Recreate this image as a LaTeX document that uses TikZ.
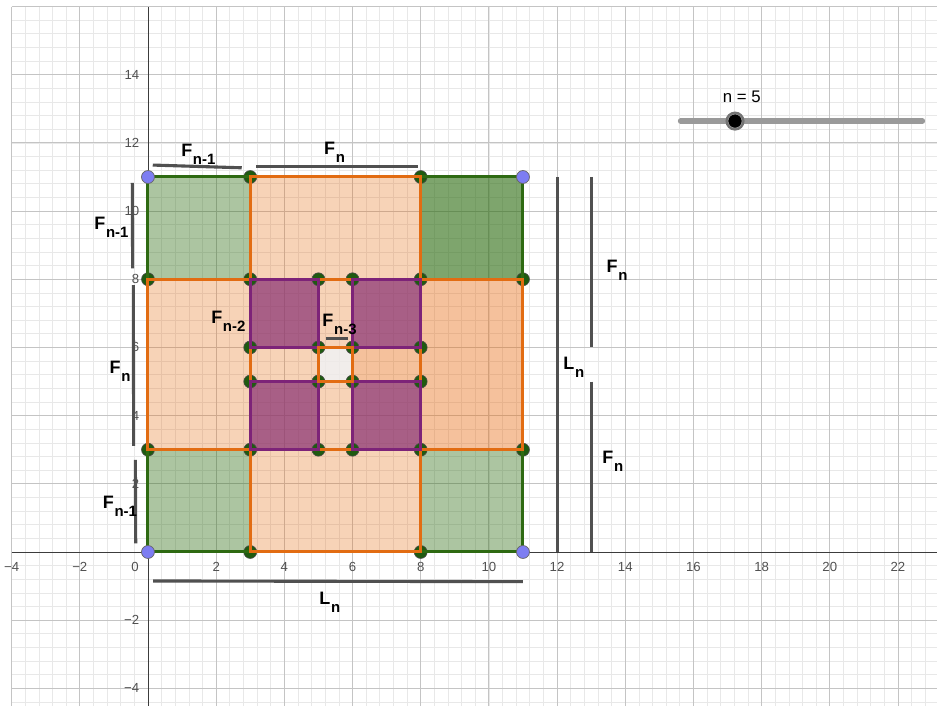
\documentclass[tikz,border=0pt]{standalone}
\usepackage{fontspec}
\setmainfont{Liberation Sans}
\usepackage{xcolor}
\usepackage{tikz}

\definecolor{gridmajor}{HTML}{C4C4C4}
\definecolor{gridminor}{HTML}{E8E8E8}
\definecolor{axisgray}{HTML}{3C3C3C}
\definecolor{ticktext}{HTML}{505050}
\definecolor{greenbase}{HTML}{2F6E14}
\definecolor{greenline}{HTML}{2E6A12}
\definecolor{orangebase}{HTML}{E66C12}
\definecolor{orangeline}{HTML}{E26C12}
\definecolor{purplebase}{HTML}{8A3372}
\definecolor{purpleline}{HTML}{7D2378}
\definecolor{centerfill}{HTML}{EEEAE7}
\definecolor{dimgray}{HTML}{505050}
\definecolor{dotgreen}{HTML}{1F5A10}
\definecolor{dotblue}{HTML}{7D7DF2}
\definecolor{slidergray}{HTML}{9A9A9A}

% label F_{n-k} as GeoGebra prints it
\newcommand{\fib}[2]{{\fontsize{15}{15}\selectfont\bfseries #1\kern0.6pt\raisebox{-6.5pt}{\fontsize{12.5}{12.5}\selectfont #2}}}

\begin{document}
\begin{tikzpicture}[x=1cm,y=1cm,
    tick/.style={text=ticktext, font=\fontsize{11}{11}\selectfont, inner sep=0pt},
    dimlabel/.style={anchor=base west, inner sep=0pt},
    dimseg/.style={dimgray, line width=2.6pt},
    gfill/.style={fill=greenbase, fill opacity=0.4},
    ofill/.style={fill=orangebase, fill opacity=0.3},
    pfill/.style={fill=purplebase, fill opacity=0.72},
    gdot/.style={circle, fill=dotgreen, draw=black!70, line width=0.5pt, inner sep=0pt, minimum size=3.8mm},
    bdot/.style={circle, fill=dotblue, draw=black!60, line width=0.6pt, inner sep=0pt, minimum size=3.8mm}]
    \useasboundingbox (-4.341,-4.517) rectangle (23.145,16.192);

    % grid and axes
    \draw[gridminor, line width=0.6pt, step=0.4] (-4,-4.517) grid (23.145,16);
    \draw[gridmajor, line width=0.7pt, step=2] (-4,-4.517) grid (23.145,16);
    \draw[axisgray, line width=0.8pt] (-4,0) -- (23.145,0);
    \draw[axisgray, line width=0.8pt] (0,-4.517) -- (0,16);

    \foreach \x/\t [count=\i] in {-4/−4,-2/−2,2/2,4/4,6/6,8/8,10/10,12/12,14/14,16/16,18/18,20/20,22/22}
      \node[tick] (xt\i) at (\x,-0.43) {\t};
    \foreach \y/\t [count=\i] in {-4/−4,-2/−2,2/2,4/4,6/6,8/8,10/10,12/12,14/14}
      \node[tick, anchor=east] (yt\i) at (-0.25,\y) {\t};
    \node[tick] (origin) at (-0.38,-0.43) {0};

    % fills
    \fill[gfill] (0,8) rectangle (3,11) (0,0) rectangle (3,3) (8,0) rectangle (11,3);
    \fill[greenbase, fill opacity=0.62] (8,8) rectangle (11,11);
    \fill[ofill, even odd rule] (3,0) rectangle (8,11) (5,5) rectangle (6,6);
    \fill[ofill] (0,3) rectangle (3,8);
    \fill[orangebase, fill opacity=0.42] (8,3) rectangle (11,8);
    \fill[orangebase, fill opacity=0.17] (6,5) rectangle (8,6);
    \fill[centerfill, fill opacity=0.85] (5,5) rectangle (6,6);
    \fill[pfill] (3,6) rectangle (5,8) (6,6) rectangle (8,8) (3,3) rectangle (5,5) (6,3) rectangle (8,5);

    \foreach \p [count=\i] in {(3,11),(8,11),(0,8),(3,8),(5,8),(6,8),(8,8),(11,8),(3,6),(5,6),(6,6),(8,6),
        (3,5),(5,5),(6,5),(8,5),(0,3),(3,3),(5,3),(6,3),(8,3),(11,3),(3,0),(8,0)}
      \node[gdot] (g\i) at \p {};

    % outlines
    \draw[greenline, line width=2.5pt] (0,8) rectangle (3,11) (8,8) rectangle (11,11)
        (0,0) rectangle (3,3) (8,0) rectangle (11,3);
    \draw[orangeline, line width=2.5pt] (3,0) rectangle (8,11) (0,3) rectangle (11,8);
    \draw[purpleline, line width=2.5pt] (3,6) rectangle (5,8) (6,6) rectangle (8,8)
        (3,3) rectangle (5,5) (6,3) rectangle (8,5);
    \draw[orangeline, line width=2.5pt] (5,5) rectangle (6,6);

    \foreach \p [count=\i] in {(0,11),(11,11),(0,0),(11,0)}
      \node[bdot] (b\i) at \p {};

    % measuring segments
    \draw[dimseg] (0.14,11.35) -- (2.75,11.27);
    \draw[dimseg] (3.17,11.30) -- (7.92,11.30);
    \draw[dimseg] (-0.46,10.83) -- (-0.45,8.32);
    \draw[dimseg] (-0.43,7.83) -- (-0.42,3.11);
    \draw[dimseg] (-0.37,2.70) -- (-0.36,0.25);
    \draw[dimseg] (0.15,-0.85) -- (11,-0.87);
    \draw[dimseg] (12,11) -- (12,0);
    \draw[dimseg] (13,11) -- (13,6);
    \draw[dimseg] (13,5) -- (13,0);
    \draw[dimseg] (5.22,6.25) -- (5.87,6.25);

    \node[dimlabel] (topa) at (0.97,11.59) {\fib{F}{n-1}};
    \node[dimlabel] (topb) at (5.16,11.65) {\fib{F}{n}};
    \node[dimlabel] (lefta) at (-1.58,9.45) {\fib{F}{n-1}};
    \node[dimlabel] (leftb) at (-1.13,5.24) {\fib{F}{n}};
    \node[dimlabel] (leftc) at (-1.33,1.28) {\fib{F}{n-1}};
    \node[dimlabel] (inner2) at (1.85,6.69) {\fib{F}{n-2}};
    \node[dimlabel] (inner3) at (5.11,6.61) {\fib{F}{n-3}};
    \node[dimlabel] (righta) at (13.45,8.19) {\fib{F}{n}};
    \node[dimlabel] (rightb) at (13.32,2.60) {\fib{F}{n}};
    \node[dimlabel] (lucasr) at (12.18,5.34) {\fib{L}{n}};
    \node[dimlabel] (lucasb) at (5.02,-1.55) {\fib{L}{n}};

    % slider
    \draw[slidergray, line width=5pt, line cap=round] (15.63,12.64) -- (22.71,12.64);
    \node[circle, fill=black!55, inner sep=0pt, minimum size=5.6mm] (knobring) at (17.22,12.64) {};
    \node[circle, fill=black, draw=black!35, line width=0.4pt, inner sep=0pt, minimum size=4.1mm] (knob) at (17.22,12.64) {};
    \node[anchor=base west, inner sep=0pt, font=\fontsize{14}{14}\selectfont] (slabel) at (16.86,13.18) {n = 5};
\end{tikzpicture}
\end{document}
